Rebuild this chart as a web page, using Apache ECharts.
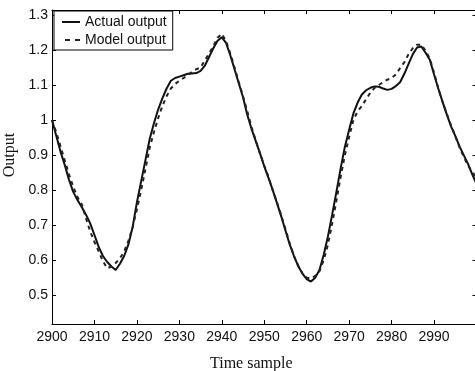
<!DOCTYPE html>
<html>
<head>
<meta charset="utf-8">
<script src="https://cdn.jsdelivr.net/npm/echarts@6/dist/echarts.min.js"></script>
<style>
html,body{margin:0;padding:0;background:#fff;}
#c{width:475px;height:371px;}
</style>
</head>
<body>
<div id="c"></div>
<script>
var timeStart = 2900;
var actualOutput = [
1.000,0.955,0.910,0.872,0.830,0.795,0.772,0.752,0.730,0.705,
0.672,0.638,0.612,0.595,0.582,0.572,0.590,0.612,0.645,0.695,
0.765,0.825,0.885,0.945,0.990,1.030,1.062,1.090,1.112,1.120,
1.124,1.128,1.132,1.133,1.134,1.140,1.155,1.180,1.205,1.226,
1.236,1.220,1.185,1.145,1.105,1.065,1.015,0.975,0.940,0.905,
0.868,0.835,0.800,0.763,0.725,0.685,0.645,0.612,0.583,0.562,
0.546,0.539,0.550,0.572,0.615,0.668,0.730,0.795,0.862,0.924,
0.972,1.019,1.050,1.073,1.085,1.092,1.096,1.095,1.090,1.086,
1.089,1.097,1.108,1.132,1.160,1.188,1.207,1.210,1.192,1.172,
1.130,1.090,1.052,1.016,0.982,0.955,0.925,0.900,0.875,0.845,
0.818
];
var modelOutput = [
1.000,0.965,0.925,0.885,0.845,0.810,0.780,0.760,0.720,0.682,
0.652,0.625,0.597,0.577,0.582,0.592,0.605,0.625,0.655,0.695,
0.745,0.800,0.860,0.920,0.965,1.005,1.040,1.068,1.090,1.103,
1.112,1.120,1.128,1.138,1.145,1.150,1.170,1.190,1.210,1.235,
1.246,1.225,1.190,1.150,1.108,1.068,1.025,0.980,0.942,0.905,
0.870,0.838,0.800,0.765,0.728,0.688,0.648,0.612,0.585,0.562,
0.550,0.548,0.555,0.568,0.600,0.645,0.705,0.770,0.838,0.900,
0.952,1.000,1.025,1.040,1.060,1.078,1.092,1.100,1.108,1.115,
1.120,1.130,1.148,1.165,1.188,1.205,1.215,1.215,1.198,1.175,
1.135,1.090,1.052,1.018,0.985,0.955,0.922,0.895,0.870,0.852,
0.835
];
var yTicks = [0.5,0.6,0.7,0.8,0.9,1.0,1.1,1.2,1.3];
var seriesNames = ['Actual output','Model output'];

function pairs(arr){
  return arr.map(function(v,i){ return [timeStart+i, v]; });
}

var chart = echarts.init(document.getElementById('c'), null, {renderer:'canvas'});
var sans = 'Liberation Sans, Arial, sans-serif';
var serif = 'Liberation Serif, Times New Roman, serif';
var option = {
  animation:false,
  backgroundColor:'#fff',
  grid:{left:52, top:10, width:424.5, height:314, containLabel:false, outerBoundsMode:'none'},
  legend:{
    left:54, top:11, orient:'vertical',
    data:[
      {name:seriesNames[0]},
      {name:seriesNames[1], lineStyle:{type:[5,5], dashOffset:-3}}
    ],
    backgroundColor:'#fff', borderColor:'#000', borderWidth:1, borderRadius:0,
    padding:[4,6,3,7], itemGap:4, itemWidth:18, itemHeight:14,
    itemStyle:{opacity:0},
    textStyle:{fontFamily:sans, fontSize:14, color:'#111', padding:[0,0,0,0]}
  },
  xAxis:[{
    type:'value', min:2900, max:3000, interval:10, position:'bottom',
    name:'Time sample', nameLocation:'middle', nameGap:32,
    nameTextStyle:{fontFamily:serif, fontSize:16, color:'#111', padding:[0,26,0,0]},
    axisLine:{show:true, onZero:false, lineStyle:{color:'#000', width:1}},
    axisTick:{show:true, inside:true, length:4, lineStyle:{color:'#000'}},
    axisLabel:{show:true, margin:6, fontFamily:sans, fontSize:14, color:'#111',
      formatter:function(v){ return v>=3000 ? '' : String(v); }},
    splitLine:{show:false}
  },{
    type:'value', min:2900, max:3000, interval:10, position:'top',
    axisLine:{show:true, onZero:false, lineStyle:{color:'#000', width:1}},
    axisTick:{show:true, inside:true, length:4, lineStyle:{color:'#000'}},
    axisLabel:{show:false}, splitLine:{show:false}
  }],
  yAxis:[{
    type:'value', min:0.418, max:1.314, position:'left',
    name:'Output', nameLocation:'middle', nameGap:27, nameRotate:90,
    nameTextStyle:{fontFamily:serif, fontSize:16, color:'#111', padding:[0,0,0,24]},
    axisLine:{show:true, onZero:false, lineStyle:{color:'#000', width:1}},
    axisTick:{show:true, inside:true, length:4, customValues:yTicks, lineStyle:{color:'#000'}},
    axisLabel:{show:true, margin:4, fontFamily:sans, fontSize:14, color:'#111', customValues:yTicks,
      formatter:function(v){ return String(Math.round(v*10)/10); }},
    splitLine:{show:false}
  },{
    type:'value', min:0.418, max:1.314, position:'right',
    axisLine:{show:true, onZero:false, lineStyle:{color:'#000', width:1}},
    axisTick:{show:true, inside:true, length:4, customValues:yTicks, lineStyle:{color:'#000'}},
    axisLabel:{show:false}, splitLine:{show:false}
  }],
  series:[{
    name:seriesNames[0], type:'line', xAxisIndex:0, yAxisIndex:0,
    data:pairs(actualOutput), symbol:'none', showSymbol:false, smooth:false, clip:true,
    lineStyle:{color:'#111', width:2, type:'solid'}, itemStyle:{color:'#111'}
  },{
    name:seriesNames[1], type:'line', xAxisIndex:0, yAxisIndex:0,
    data:pairs(modelOutput), symbol:'none', showSymbol:false, smooth:false, clip:true,
    lineStyle:{color:'#222', width:2, type:[4,4]}, itemStyle:{color:'#222'}
  }]
};
chart.setOption(option);
</script>
</body>
</html>
